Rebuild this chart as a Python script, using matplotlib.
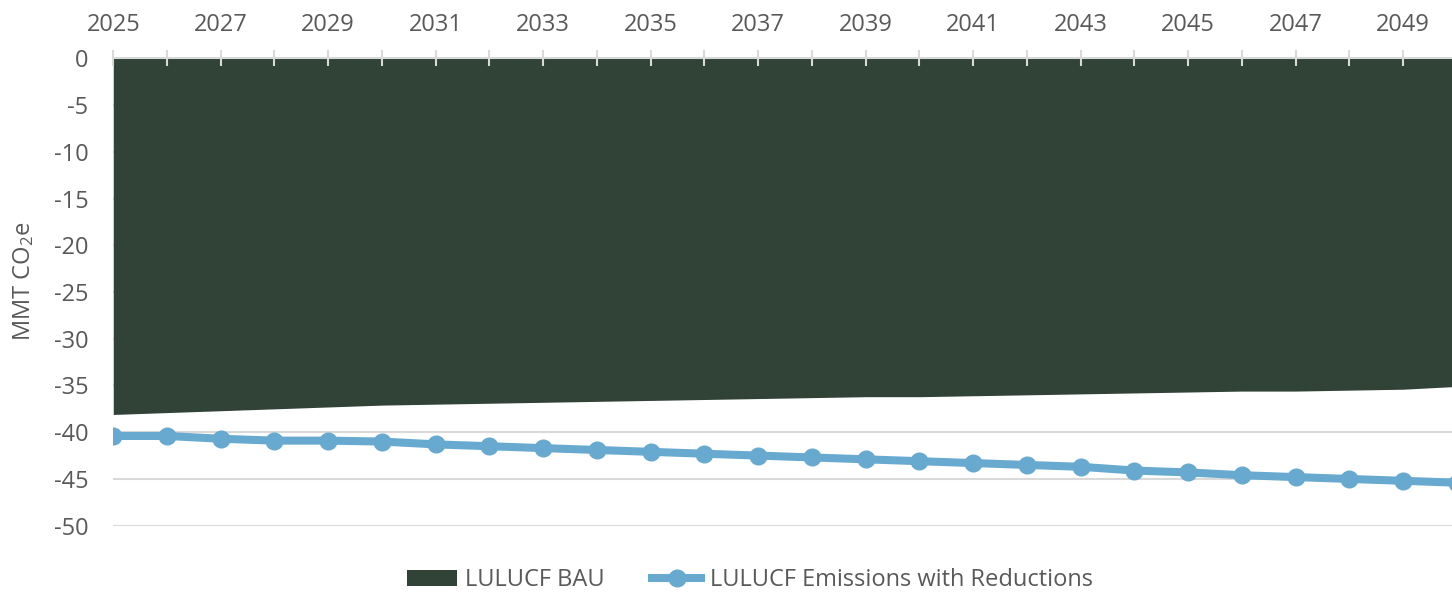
import matplotlib.pyplot as plt
import numpy as np

# data
years = list(range(2025, 2051))
bau = [-38.1, -37.9, -37.7, -37.5, -37.3, -37.1, -37.0, -36.9, -36.8, -36.7,
       -36.6, -36.5, -36.4, -36.3, -36.2, -36.2, -36.1, -36.0, -35.9, -35.8,
       -35.7, -35.6, -35.6, -35.5, -35.4, -35.1]
reductions = [-40.4, -40.4, -40.7, -40.9, -40.9, -41.0, -41.3, -41.5, -41.7, -41.9,
              -42.1, -42.3, -42.5, -42.7, -42.9, -43.1, -43.3, -43.5, -43.7, -44.1,
              -44.3, -44.6, -44.8, -45.0, -45.2, -45.4]
xtick_labels = [str(y) if (y - 2025) % 2 == 0 else "" for y in years]
yticks = list(range(0, -55, -5))

plt.rcParams['font.family'] = ['Open Sans', 'DejaVu Sans']
plt.rcParams['mathtext.fontset'] = 'custom'
plt.rcParams['mathtext.rm'] = 'Open Sans'
plt.rcParams['mathtext.it'] = 'Open Sans'

grey_txt = '#595959'
grid_c = '#d9d9d9'

fig = plt.figure(figsize=(14.52, 5.92), dpi=100)
ax = fig.add_axes([0.078, 0.112, 0.9254, 0.7895])

# horizontal gridlines, kept under the area so the axis ticks can sit on top
for v in yticks:
    ax.axhline(v, color=grid_c, lw=1.5, zorder=1)

ax.fill_between(years, bau, 0, color='#314237', linewidth=0, zorder=2,
                label='LULUCF BAU')
ax.plot(years, reductions, color='#67a9cf', lw=5.8, marker='o', ms=12,
        zorder=3, label='LULUCF Emissions with Reductions')

ax.set_xlim(2025, 2050)
ax.set_ylim(-50, 0)
ax.xaxis.tick_top()
ax.set_xticks(years)
ax.set_xticklabels(xtick_labels)
ax.set_yticks(yticks)
ax.set_yticklabels([str(v) for v in yticks])

ax.tick_params(axis='x', direction='inout', length=11, width=1.5, color=grid_c,
               labelsize=17, labelcolor=grey_txt, pad=10)
ax.tick_params(axis='y', length=0, labelsize=17, labelcolor=grey_txt, pad=18)
ax.set_axisbelow(False)

for s in ['left', 'right', 'bottom']:
    ax.spines[s].set_visible(False)
ax.spines['top'].set_color(grid_c)
ax.spines['top'].set_linewidth(1.5)

fig.text(0.016, 0.524, 'MMT CO$_2$e', rotation=90, va='center', ha='center',
         fontsize=17, color=grey_txt)

fig.legend(loc='center', bbox_to_anchor=(0.5165, 0.02), ncol=2, frameon=False,
           fontsize=17, labelcolor=grey_txt, handlelength=2.1, handletextpad=0.35,
           columnspacing=2.0)

fig.savefig('out.png', dpi=100)
